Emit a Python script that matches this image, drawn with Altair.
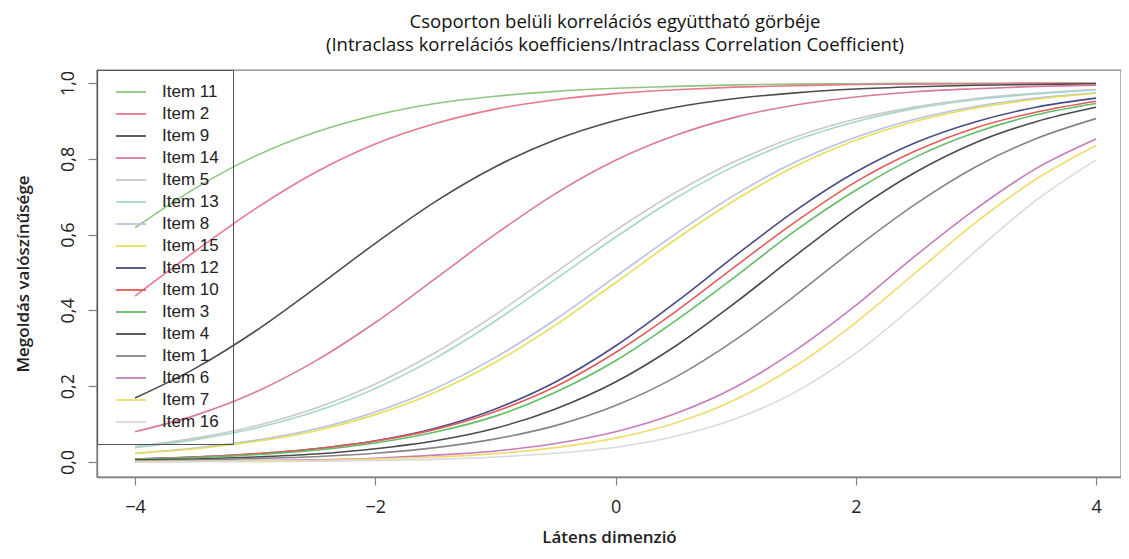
import altair as alt
import pandas as pd

theta = [-4, -3.5, -3, -2.5, -2, -1.5, -1, -0.5, 0, 0.5, 1, 1.5, 2, 2.5, 3, 3.5, 4]

items = ["Item 11", "Item 2", "Item 9", "Item 14", "Item 5", "Item 13", "Item 8", "Item 15",
         "Item 12", "Item 10", "Item 3", "Item 4", "Item 1", "Item 6", "Item 7", "Item 16"]
colors = ["#8fc47f", "#e8788c", "#4d4d4d", "#d97a9c", "#c9c9c9", "#a6d6cf", "#b9c2e3", "#e6df5a",
          "#484c86", "#e35a5a", "#62be66", "#4a4a4a", "#858585", "#c77bbd", "#f0dc6c", "#d9d9e3"]

item11 = [0.618, 0.722, 0.807, 0.870, 0.915, 0.946, 0.965, 0.978, 0.986, 0.991, 0.995, 0.997, 0.998, 0.999, 0.999, 1.000, 1.000]
item2 = [0.438, 0.556, 0.668, 0.764, 0.839, 0.893, 0.931, 0.956, 0.972, 0.982, 0.989, 0.993, 0.996, 0.997, 0.998, 0.999, 0.999]
item9 = [0.169, 0.247, 0.345, 0.459, 0.577, 0.687, 0.779, 0.850, 0.901, 0.936, 0.959, 0.974, 0.984, 0.990, 0.994, 0.996, 0.998]
item14 = [0.080, 0.123, 0.184, 0.266, 0.368, 0.484, 0.601, 0.708, 0.796, 0.862, 0.910, 0.942, 0.963, 0.977, 0.985, 0.991, 0.994]
item5 = [0.041, 0.063, 0.095, 0.142, 0.206, 0.289, 0.389, 0.500, 0.611, 0.711, 0.794, 0.858, 0.905, 0.937, 0.959, 0.973, 0.983]
item13 = [0.038, 0.059, 0.089, 0.133, 0.194, 0.274, 0.372, 0.482, 0.593, 0.696, 0.782, 0.849, 0.898, 0.933, 0.956, 0.971, 0.982]
item8 = [0.023, 0.037, 0.057, 0.087, 0.132, 0.194, 0.276, 0.376, 0.489, 0.602, 0.706, 0.792, 0.857, 0.905, 0.938, 0.960, 0.974]
item15 = [0.022, 0.035, 0.054, 0.082, 0.125, 0.184, 0.263, 0.361, 0.473, 0.587, 0.692, 0.781, 0.849, 0.899, 0.934, 0.957, 0.973]
item12 = [0.008, 0.013, 0.021, 0.035, 0.056, 0.089, 0.140, 0.211, 0.306, 0.421, 0.545, 0.664, 0.765, 0.843, 0.898, 0.936, 0.960]
item10 = [0.008, 0.013, 0.022, 0.035, 0.055, 0.086, 0.133, 0.199, 0.289, 0.397, 0.517, 0.634, 0.739, 0.821, 0.882, 0.923, 0.952]
item3 = [0.007, 0.012, 0.019, 0.031, 0.050, 0.079, 0.121, 0.184, 0.267, 0.373, 0.490, 0.611, 0.717, 0.805, 0.870, 0.916, 0.946]
item4 = [0.005, 0.008, 0.013, 0.021, 0.035, 0.056, 0.089, 0.140, 0.211, 0.306, 0.421, 0.545, 0.664, 0.765, 0.843, 0.898, 0.936]
item1 = [0.003, 0.005, 0.009, 0.014, 0.023, 0.038, 0.061, 0.096, 0.149, 0.224, 0.323, 0.440, 0.565, 0.681, 0.779, 0.853, 0.906]
item6 = [0.001, 0.002, 0.004, 0.006, 0.010, 0.018, 0.029, 0.049, 0.080, 0.128, 0.198, 0.295, 0.413, 0.545, 0.668, 0.774, 0.852]
item7 = [0.001, 0.002, 0.003, 0.004, 0.008, 0.013, 0.022, 0.038, 0.063, 0.103, 0.165, 0.254, 0.368, 0.500, 0.632, 0.746, 0.835]
item16 = [0.000, 0.001, 0.001, 0.002, 0.004, 0.007, 0.013, 0.023, 0.039, 0.068, 0.114, 0.185, 0.287, 0.416, 0.557, 0.690, 0.797]

series = [item11, item2, item9, item14, item5, item13, item8, item15,
          item12, item10, item3, item4, item1, item6, item7, item16]

y_ticks = [0.0, 0.2, 0.4, 0.6, 0.8, 1.0]
x_ticks = [-4, -2, 0, 2, 4]

title_lines = ["Csoporton belüli korrelációs együttható görbéje",
               "(Intraclass korrelációs koefficiens/Intraclass Correlation Coefficient)"]

rows = []
for name, vals in zip(items, series):
    for t, p in zip(theta, vals):
        rows.append({"item": name, "theta": t, "p": p})
df = pd.DataFrame(rows)

chart = alt.Chart(df).mark_line(strokeWidth=1.6, interpolate="monotone").encode(
    x=alt.X("theta:Q",
            scale=alt.Scale(domain=[-4.317, 4.208], nice=False, zero=False),
            axis=alt.Axis(values=x_ticks, title="Látens dimenzió", format="d",
                          labelFontSize=18, labelPadding=13, tickSize=8,
                          titleFontSize=17, titlePadding=13, titleFontWeight=600)),
    y=alt.Y("p:Q",
            scale=alt.Scale(domain=[-0.0396, 1.0343], nice=False, zero=False),
            axis=alt.Axis(values=y_ticks, title="Megoldás valószínűsége",
                          labelExpr="replace(format(datum.value, '.1f'), '.', ',')",
                          labelAngle=270, labelAlign="center", labelBaseline="alphabetic",
                          labelFontSize=18, labelPadding=15, tickSize=9,
                          titleFontSize=17, titlePadding=27, titleFontWeight=600)),
    color=alt.Color("item:N",
                    scale=alt.Scale(domain=items, range=colors),
                    legend=alt.Legend(title=None, orient="top-left", offset=0, padding=13.5,
                                      strokeColor="#555555", symbolType="M-3,0H3",
                                      symbolSize=100, symbolStrokeWidth=1.8,
                                      symbolOffset=12, labelOffset=22.5,
                                      labelFontSize=17, labelFont="Liberation Sans",
                                      labelColor="#222222", rowPadding=4.0)),
).properties(
    width=1024,
    height=407,
    autosize=alt.AutoSizeParams(type="none"),
    padding={"left": 89, "top": 62, "right": 0, "bottom": 74},
    title=alt.TitleParams(text=title_lines, fontSize=18.5, font="Open Sans", fontWeight="normal",
                          anchor="middle", dx=6, offset=15, lineHeight=23.5, color="#111111"),
).configure_view(
    stroke="#808080", strokeWidth=1.4
).configure_axis(
    domainColor="#808080", domainWidth=1.4, tickColor="#808080", tickWidth=1.2,
    grid=False, labelFont="Open Sans", titleFont="Open Sans",
    labelColor="#222222", titleColor="#222222"
)

chart.save("out.html", embed_options={"renderer": "svg", "actions": False})
